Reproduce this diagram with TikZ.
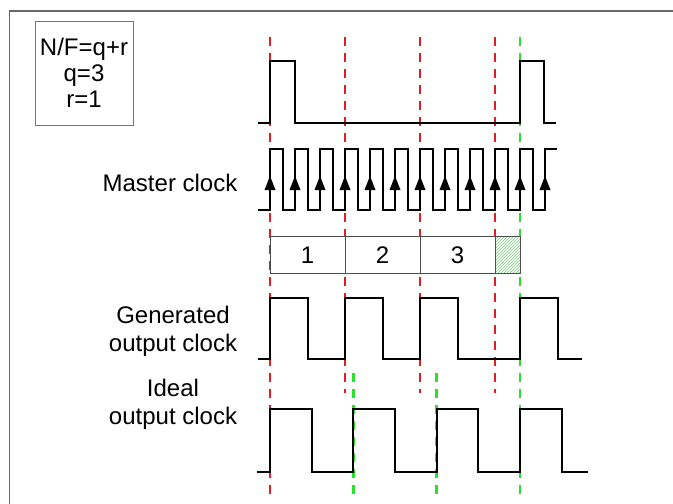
\documentclass[tikz,border=0pt]{standalone}
\usepackage{fontspec}
\setmainfont{Liberation Sans}
\usetikzlibrary{patterns}
\definecolor{dred}{RGB}{228,28,28}
\definecolor{dgreen}{RGB}{40,225,40}
\definecolor{hatchgreen}{RGB}{120,205,120}
\definecolor{framegray}{RGB}{105,105,105}
\begin{document}
\begin{tikzpicture}[x=1pt,y=-1pt,
  sig/.style={line width=2pt,line join=miter},
  rdash/.style={draw=dred,line width=2.5pt,dash pattern=on 9pt off 7pt},
  gdash/.style={draw=dgreen,line width=2.5pt,dash pattern=on 9pt off 7pt},
  lbl/.style={font=\fontsize{24}{28}\selectfont, inner sep=0pt, align=center},
  cellbox/.style={draw=black!70,line width=0.9pt}]
\useasboundingbox (0,0) rectangle (673,504);
% frame
\draw[framegray,line width=1.5pt] (9.5,504) -- (9.5,11) -- (673,11);
% parameter box
\node[lbl, draw=black!55, line width=0.9pt, minimum width=98pt, minimum height=104pt,
      font=\fontsize{24}{26}\selectfont] (params) at (84,73) {N/F=q+r\\q=3\\r=1};
% dashed markers
\draw[rdash] (270,37) -- (270,500);
\draw[rdash] (345,37) -- (345,393);
\draw[rdash] (420,37) -- (420,393);
\draw[rdash] (495,37) -- (495,393);
\draw[gdash] (520,37) -- (520,500);
\draw[gdash] (353.3,373) -- (353.3,500);
\draw[gdash] (436.7,373) -- (436.7,500);
% reference pulse
\draw[sig] (258,123) -- (270,123) -- (270,61) -- (295,61) -- (295,123) -- (520,123)
  -- (520,61) -- (544,61) -- (544,123) -- (556,123);
% master clock
\draw[sig] (258,210) foreach \k in {0,...,10}{ -- ({270+25*\k},210) -- ({270+25*\k},149)
  -- ({282.5+25*\k},149) -- ({282.5+25*\k},210)} -- (545,210) -- (545,149) -- (557,149);
\foreach \k in {0,...,11} \fill ({270+25*\k},176) -- ++(5.5,14) -- ++(-11,0) -- cycle;
\node[lbl, anchor=base] (mclk) at (170,191) {Master clock};
% counting cells
\fill[white] (270,236) rectangle (520,273);
\fill[pattern=north east lines, pattern color=hatchgreen] (495,236) rectangle (520,273);
\draw[cellbox] (270,236) rectangle (520,273);
\draw[cellbox] (345,236) -- (345,273) (420,236) -- (420,273) (495,236) -- (495,273);
\node[lbl, anchor=base] (c1) at (307.5,263) {1};
\node[lbl, anchor=base] (c2) at (382.5,263) {2};
\node[lbl, anchor=base] (c3) at (457.5,263) {3};
% generated output clock
\draw[sig] (258,359) -- (270,359) -- (270,298) -- (307.5,298) -- (307.5,359) -- (345,359)
  -- (345,298) -- (382.5,298) -- (382.5,359) -- (420,359) -- (420,298) -- (457.5,298)
  -- (457.5,359) -- (520,359) -- (520,298) -- (557.5,298) -- (557.5,359) -- (582,359);
\node[lbl] (gen) at (173,331) {Generated\\output clock};
% ideal output clock
\draw[sig] (257,472) -- (270,472) -- (270,409) -- (311.7,409) -- (311.7,472) -- (353.3,472)
  -- (353.3,409) -- (395,409) -- (395,472) -- (436.7,472) -- (436.7,409) -- (478.3,409)
  -- (478.3,472) -- (520,472) -- (520,409) -- (561.7,409) -- (561.7,472) -- (588,472);
\node[lbl] (ideal) at (173,404) {Ideal\\output clock};
\end{tikzpicture}
\end{document}
